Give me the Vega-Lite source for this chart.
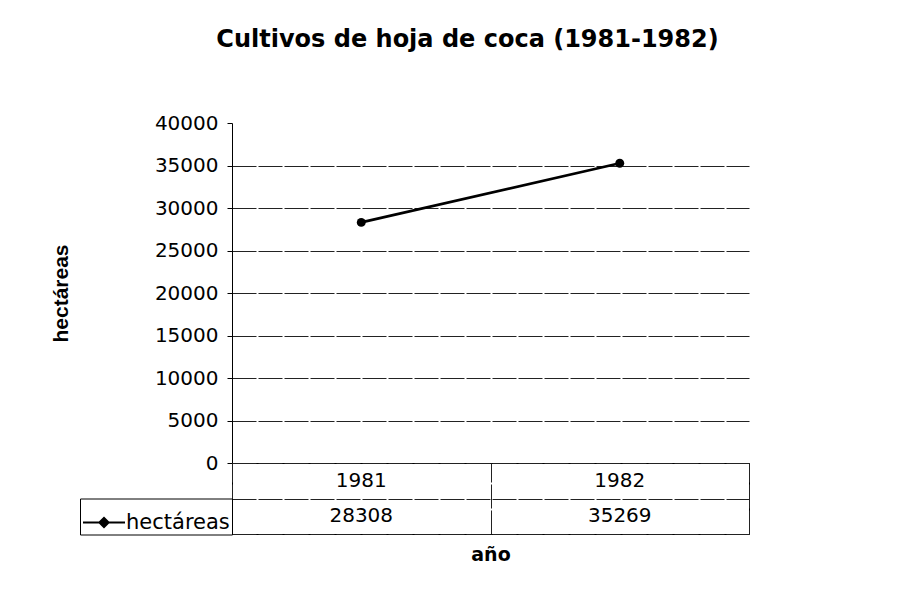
{
  "$schema": "https://vega.github.io/schema/vega-lite/v6.json",
  "background": "white",
  "padding": {"left": 50, "top": 28, "right": 0, "bottom": 0},
  "bounds": "flush",
  "spacing": 0,
  "datasets": {
    "cultivos": [
      {"year": "1981", "hectareas": 28308, "serie": "hectáreas"},
      {"year": "1982", "hectareas": 35269, "serie": "hectáreas"}
    ]
  },
  "config": {
    "font": "DejaVu Sans",
    "view": {"stroke": null}
  },
  "vconcat": [
    {
      "width": 517,
      "height": 340,
      "title": {
        "text": "Cultivos de hoja de coca (1981-1982)",
        "font": "DejaVu Sans",
        "fontSize": 24,
        "fontWeight": "bold",
        "color": "#000",
        "anchor": "middle",
        "frame": "group",
        "dx": -23,
        "offset": 61
      },
      "data": {"name": "cultivos"},
      "encoding": {
        "x": {"field": "year", "type": "ordinal", "scale": {"type": "point", "padding": 0.5}, "axis": null},
        "y": {
          "field": "hectareas",
          "type": "quantitative",
          "scale": {"domain": [0, 40000], "nice": false},
          "axis": {
            "values": [0, 5000, 10000, 15000, 20000, 25000, 30000, 35000, 40000],
            "format": "d",
            "title": "hectáreas",
            "titleFont": "Liberation Sans",
            "titleFontSize": 21,
            "titleFontWeight": "bold",
            "titleColor": "#000",
            "titlePadding": 83,
            "labelFont": "DejaVu Sans",
            "labelFontSize": 20,
            "labelColor": "#000",
            "labelPadding": 9,
            "labelFlush": false,
            "labelOverlap": false,
            "tickSize": 5,
            "tickColor": "#000",
            "domainColor": "#000",
            "domainWidth": 1,
            "grid": true,
            "gridColor": "#222",
            "gridWidth": 1,
            "gridDash": [24, 2],
            "gridOpacity": {"condition": {"test": "datum.value === 40000", "value": 0}, "value": 1}
          }
        }
      },
      "layer": [
        {"mark": {"type": "line", "color": "#000", "strokeWidth": 2.6}},
        {"mark": {"type": "point", "filled": true, "color": "#000", "size": 80, "opacity": 1}}
      ]
    },
    {
      "width": 517,
      "height": 71,
      "view": {"stroke": "#000", "strokeWidth": 1},
      "data": {"name": "cultivos"},
      "encoding": {
        "x": {
          "field": "year",
          "type": "ordinal",
          "scale": {"type": "band", "paddingInner": 0, "paddingOuter": 0},
          "axis": {
            "title": "año",
            "titleFont": "DejaVu Sans",
            "titleFontSize": 19,
            "titleFontWeight": "bold",
            "titleColor": "#000",
            "titlePadding": 11,
            "labels": false,
            "ticks": false,
            "domain": false,
            "grid": true,
            "tickBand": "extent",
            "gridColor": "#222",
            "gridWidth": 1,
            "gridDash": [24, 2]
          }
        }
      },
      "layer": [
        {
          "mark": {"type": "text", "fontSize": 20, "color": "#000", "font": "DejaVu Sans"},
          "encoding": {
            "y": {
              "datum": "cat",
              "type": "nominal",
              "scale": {"type": "band", "domain": ["cat", "val"], "paddingInner": 0, "paddingOuter": 0},
              "axis": {
                "title": null,
                "labels": false,
                "ticks": false,
                "domain": false,
                "grid": true,
                "tickBand": "extent",
                "gridColor": "#222",
                "gridWidth": 1,
                "gridDash": [24, 2]
              }
            },
            "text": {"field": "year", "type": "nominal"}
          }
        },
        {
          "mark": {"type": "text", "fontSize": 20, "font": "DejaVu Sans"},
          "encoding": {
            "y": {"datum": "val", "type": "nominal"},
            "text": {"field": "hectareas", "type": "quantitative", "format": "d"},
            "color": {
              "field": "serie",
              "type": "nominal",
              "scale": {"range": ["#000000"]},
              "legend": {
                "title": null,
                "orient": "none",
                "legendX": -152,
                "legendY": 375.5,
                "symbolType": "M-1,0L1,0M-0.22,0L0,-0.22L0.22,0L0,0.22Z",
                "symbolSize": 1764,
                "symbolStrokeColor": "#000",
                "symbolStrokeWidth": 2,
                "symbolFillColor": "#000",
                "labelFont": "DejaVu Sans",
                "labelFontSize": 21,
                "labelColor": "#000",
                "labelOffset": 0,
                "padding": 2,
                "strokeColor": "#000",
                "fillColor": "#fff"
              }
            }
          }
        }
      ]
    }
  ]
}
